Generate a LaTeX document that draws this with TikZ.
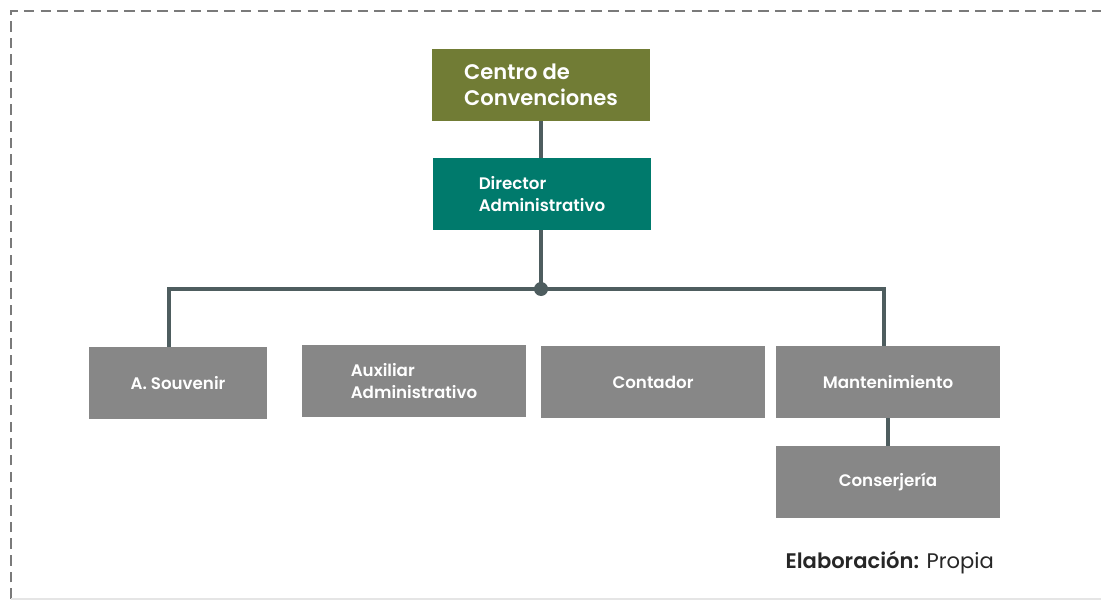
\documentclass[tikz,border=0pt]{standalone}
\usepackage{fontspec}
\setmainfont[BoldFont={Poppins SemiBold}]{Poppins}
\usetikzlibrary{calc}

\definecolor{olivo}{HTML}{717C35}
\definecolor{verdeazul}{HTML}{007A6C}
\definecolor{gris}{HTML}{878787}
\definecolor{pizarra}{HTML}{4E5D5F}
\definecolor{marco}{HTML}{7A7A7A}

\begin{document}
\begin{tikzpicture}[x=0.02cm,y=-0.02cm]
  \tikzset{cargo/.style={rectangle, text=white, align=left, minimum height=1.44cm, inner sep=0pt}};
  \tikzset{jefe/.style={cargo, minimum width=4.36cm, font=\fontsize{12}{15}\selectfont\bfseries}};
  \tikzset{area/.style={cargo, fill=gris, minimum width=4.48cm, font=\fontsize{9.5}{12}\selectfont\bfseries}};
  \tikzset{linea/.style={draw=pizarra, line width=1.9pt}};
  \useasboundingbox (0,0) rectangle (1101,601);

  % marco punteado
  \draw[marco, line width=1.5pt, dash pattern=on 6pt off 3.5pt] (11,599) -- (11,11) -- (1101,11);
  \draw[black!10, line width=1pt] (11,599) -- (1101,599);

  \node[jefe, fill=olivo] (centro) at (541,85) {Centro de\\Convenciones};
  \node[jefe, fill=verdeazul, font=\fontsize{9.5}{12.5}\selectfont\bfseries] (director) at (542,194) {Director\\Administrativo};

  \node[area, minimum width=3.58cm] (souvenir) at (178,383) {A. Souvenir};
  \node[area] (auxiliar) at (414,381) {Auxiliar\\Administrativo};
  \node[area] (contador) at (653,382) {Contador};
  \node[area] (mant) at (888,382) {Mantenimiento};
  \node[area] (conserje) at (888,482) {Conserjería};

  \coordinate (nudo) at (541,289);
  \draw[linea] (centro) -- (centro |- director.north);
  \draw[linea] (nudo |- director.south) -- (nudo);
  \fill[pizarra] (nudo) circle (7);
  \draw[linea] ($(souvenir.north)+(-9,0)$) |- (nudo) -| ($(mant.north)+(-4,0)$);
  \draw[linea] ($(auxiliar.north)+(17,0)$) -- ($(auxiliar.north)+(17,0)$ |- nudo);
  \draw[linea] ($(contador.north)+(2,0)$) -- ($(contador.north)+(2,0)$ |- nudo);
  \draw[linea] (mant) -- (conserje);

  \node[anchor=east, font=\fontsize{12}{14}\selectfont, text=black!85] (fuente) at (1000,563) {\textbf{Elaboración:} Propia};
\end{tikzpicture}
\end{document}
